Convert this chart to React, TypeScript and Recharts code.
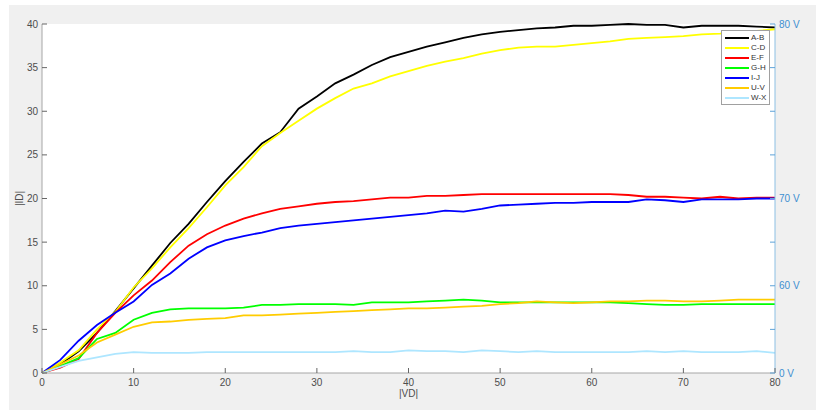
import React from 'react'
import {
  LineChart,
  Line,
  XAxis,
  YAxis,
  CartesianGrid,
} from 'recharts'

// |VD| sample points
const vd = [
  0, 2, 4, 6, 8, 10, 12, 14, 16, 18, 20, 22, 24, 26, 28, 30, 32, 34, 36, 38, 40,
  42, 44, 46, 48, 50, 52, 54, 56, 58, 60, 62, 64, 66, 68, 70, 72, 74, 76, 78, 80,
]

const idAB = [
  0, 1.0, 2.5, 4.6, 7.1, 9.7, 12.3, 14.9, 17.1, 19.6, 22.0, 24.2, 26.3, 27.6, 30.3, 31.7,
  33.2, 34.2, 35.3, 36.2, 36.8, 37.4, 37.9, 38.4, 38.8, 39.1, 39.3, 39.5, 39.6, 39.8, 39.8,
  39.9, 40.0, 39.9, 39.9, 39.6, 39.8, 39.8, 39.8, 39.7, 39.6,
]
const idCD = [
  0, 1.2, 2.6, 5.0, 7.0, 9.8, 12.0, 14.4, 16.6, 19.0, 21.5, 23.6, 26.0, 27.5, 28.9, 30.3,
  31.5, 32.6, 33.2, 34.0, 34.6, 35.2, 35.7, 36.1, 36.6, 37.0, 37.3, 37.4, 37.4, 37.6, 37.8,
  38.0, 38.3, 38.4, 38.5, 38.6, 38.8, 38.9, 39.1, 39.2, 39.4,
]
const idEF = [
  0, 0.6, 1.6, 4.6, 6.9, 8.9, 10.6, 12.7, 14.6, 15.9, 16.9, 17.7, 18.3, 18.8, 19.1, 19.4,
  19.6, 19.7, 19.9, 20.1, 20.1, 20.3, 20.3, 20.4, 20.5, 20.5, 20.5, 20.5, 20.5, 20.5, 20.5,
  20.5, 20.4, 20.2, 20.2, 20.1, 20.0, 20.2, 20.0, 20.1, 20.1,
]
const idGH = [
  0, 0.8, 1.7, 3.9, 4.6, 6.1, 6.9, 7.3, 7.4, 7.4, 7.4, 7.5, 7.8, 7.8, 7.9, 7.9,
  7.9, 7.8, 8.1, 8.1, 8.1, 8.2, 8.3, 8.4, 8.3, 8.1, 8.1, 8.1, 8.1, 8.1, 8.1,
  8.1, 8.0, 7.9, 7.8, 7.8, 7.9, 7.9, 7.9, 7.9, 7.9,
]
const idIJ = [
  0, 1.5, 3.7, 5.5, 6.9, 8.2, 10.1, 11.4, 13.1, 14.4, 15.2, 15.7, 16.1, 16.6, 16.9, 17.1,
  17.3, 17.5, 17.7, 17.9, 18.1, 18.3, 18.6, 18.5, 18.8, 19.2, 19.3, 19.4, 19.5, 19.5, 19.6,
  19.6, 19.6, 19.9, 19.8, 19.6, 19.9, 19.9, 19.9, 20.0, 20.0,
]
const idUV = [
  0, 1.0, 2.0, 3.5, 4.4, 5.3, 5.8, 5.9, 6.1, 6.2, 6.3, 6.6, 6.6, 6.7, 6.8, 6.9,
  7.0, 7.1, 7.2, 7.3, 7.4, 7.4, 7.5, 7.6, 7.7, 7.9, 8.0, 8.2, 8.1, 8.0, 8.1,
  8.2, 8.2, 8.3, 8.3, 8.2, 8.2, 8.3, 8.4, 8.4, 8.4,
]
const idWX = [
  0, 0.7, 1.4, 1.8, 2.2, 2.4, 2.3, 2.3, 2.3, 2.4, 2.4, 2.4, 2.4, 2.4, 2.4, 2.4,
  2.4, 2.5, 2.4, 2.4, 2.6, 2.5, 2.5, 2.4, 2.6, 2.5, 2.4, 2.5, 2.4, 2.4, 2.4,
  2.4, 2.4, 2.5, 2.4, 2.5, 2.4, 2.4, 2.4, 2.5, 2.3,
]

const seriesNames = ['A-B', 'C-D', 'E-F', 'G-H', 'I-J', 'U-V', 'W-X']
const seriesColors = ['#000000', '#ffff00', '#ff0000', '#00ff00', '#0000ff', '#ffcc00', '#aee6ff']
const seriesValues = [idAB, idCD, idEF, idGH, idIJ, idUV, idWX]

const xTicks = [0, 10, 20, 30, 40, 50, 60, 70, 80]
const yTicks = [0, 5, 10, 15, 20, 25, 30, 35, 40]
const rightLabels: Record<number, string> = { 0: '0 V', 10: '60 V', 20: '70 V', 40: '80 V' }

const data = vd.map((v, i) => {
  const row: Record<string, number> = { vd: v }
  seriesNames.forEach((n, k) => {
    row[n] = seriesValues[k][i]
  })
  return row
})

const FONT = '"Liberation Sans", Arial, sans-serif'
const TICK_COLOR = '#4d4d4d'
const RIGHT_COLOR = '#3d8fd1'

const LeftTick = (props: any) => {
  const { x, y, payload } = props
  return (
    <g>
      <line x1={x} x2={x + 5} y1={y} y2={y} stroke="#666" />
      <text x={x - 4} y={y} dy={3.5} textAnchor="end" fontSize={10} fill={TICK_COLOR} fontFamily={FONT}>
        {payload.value}
      </text>
    </g>
  )
}

const RightTick = (props: any) => {
  const { x, y, payload } = props
  return (
    <g>
      <line x1={x - 5} x2={x} y1={y} y2={y} stroke="#5fa3d8" />
      <text x={x + 4} y={y} dy={3.5} textAnchor="start" fontSize={10} fill={RIGHT_COLOR} fontFamily={FONT}>
        {rightLabels[payload.value] ?? ''}
      </text>
    </g>
  )
}

const BottomTick = (props: any) => {
  const { x, y, payload } = props
  return (
    <g>
      <line x1={x} x2={x} y1={y} y2={y - 5} stroke="#666" />
      <text x={x} y={y} dy={13} textAnchor="middle" fontSize={10} fill={TICK_COLOR} fontFamily={FONT}>
        {payload.value}
      </text>
    </g>
  )
}

const LegendBox = () => (
  <div
    style={{
      position: 'absolute',
      left: 721,
      top: 30,
      width: 44,
      background: '#fff',
      border: '1px solid #a0a0a0',
      padding: '2px 0 1px 3px',
      fontFamily: FONT,
      fontSize: 8,
      color: '#333',
      lineHeight: '10px',
    }}
  >
    {seriesNames.map((n, i) => (
      <div key={n} style={{ display: 'flex', alignItems: 'center', height: 10 }}>
        <div style={{ width: 24, height: 2, background: seriesColors[i], marginRight: 2 }} />
        <span>{n}</span>
      </div>
    ))}
  </div>
)

const App: React.FC = () => {
  return (
    <div style={{ position: 'absolute', left: 0, top: 0, width: 816, height: 410, background: '#fff' }}>
      <div style={{ position: 'absolute', left: 9, top: 5, width: 807, height: 405, background: '#f0f0f0' }} />
      <div style={{ position: 'absolute', left: 0, top: 0 }}>
        <LineChart width={816} height={410} data={data} margin={{ top: 24, right: 0, left: 0, bottom: 0 }}>
          <CartesianGrid fill="#ffffff" horizontal={false} vertical={false} yAxisId="left" />
          <XAxis
            dataKey="vd"
            type="number"
            domain={[0, 80]}
            ticks={xTicks}
            interval={0}
            height={37}
            tickSize={0}
            tickMargin={0}
            tickLine={false}
            tick={<BottomTick />}
            axisLine={{ stroke: '#a6a6a6' }}
            label={{ value: '|VD|', position: 'insideBottom', offset: 13, fontSize: 10, fill: TICK_COLOR, fontFamily: FONT }}
          />
          <YAxis
            yAxisId="left"
            domain={[0, 40]}
            ticks={yTicks}
            interval={0}
            width={42}
            tickSize={0}
            tickMargin={0}
            tickLine={false}
            tick={<LeftTick />}
            axisLine={{ stroke: '#a6a6a6' }}
            label={{ value: '|ID|', angle: -90, position: 'center', dx: -2, fontSize: 10, fill: TICK_COLOR, fontFamily: FONT }}
          />
          <YAxis
            yAxisId="right"
            orientation="right"
            domain={[0, 40]}
            ticks={yTicks}
            interval={0}
            width={41}
            tickSize={0}
            tickMargin={0}
            tickLine={false}
            tick={<RightTick />}
            axisLine={{ stroke: '#8cbfe3' }}
          />
          {seriesNames.map((n, i) => (
            <Line
              key={n}
              yAxisId={n === 'W-X' ? 'right' : 'left'}
              dataKey={n}
              name={n}
              stroke={seriesColors[i]}
              strokeWidth={1.8}
              dot={false}
              type="linear"
              isAnimationActive={false}
            />
          ))}
        </LineChart>
      </div>
      <LegendBox />
    </div>
  )
}

export default App
